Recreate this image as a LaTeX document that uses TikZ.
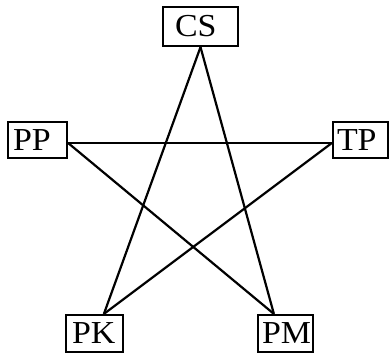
\documentclass[tikz,border=0pt]{standalone}
\usepackage{fontspec}
\setmainfont[FakeStretch=1.06]{Liberation Serif}
\begin{document}
\begin{tikzpicture}[x=1pt,y=-1pt,
  box/.style={draw,line width=2.2pt,fill=white,inner ysep=0pt,align=left,font=\fontsize{32}{34}\selectfont},
  edge/.style={line width=2.2pt}]
\useasboundingbox (0,0) rectangle (390,358);
\node[box,inner xsep=12pt,text width=51pt,minimum height=39pt] (cs) at (200.5,26.5) {CS};
\node[box,inner xsep=5pt,text width=49pt,minimum height=36pt] (pp) at (37.5,140) {PP};
\node[box,inner xsep=4pt,text width=47pt,minimum height=36pt] (tp) at (360.5,140) {TP};
\node[box,inner xsep=6pt,text width=45pt,minimum height=37pt] (pk) at (94.5,333.5) {PK};
\node[box,inner xsep=4pt,text width=47pt,minimum height=37pt] (pm) at (285.5,333.5) {PM};
\draw[edge] (cs.south) -- ([xshift=39pt]pk.north west);
\draw[edge] (cs.south) -- ([xshift=17pt]pm.north west);
\draw[edge] ([yshift=-3pt]pp.east) -- ([yshift=-3pt]tp.west);
\draw[edge] ([yshift=-3pt]pp.east) -- ([xshift=17pt]pm.north west);
\draw[edge] ([yshift=-3pt]tp.west) -- ([xshift=39pt]pk.north west);
\end{tikzpicture}
\end{document}
